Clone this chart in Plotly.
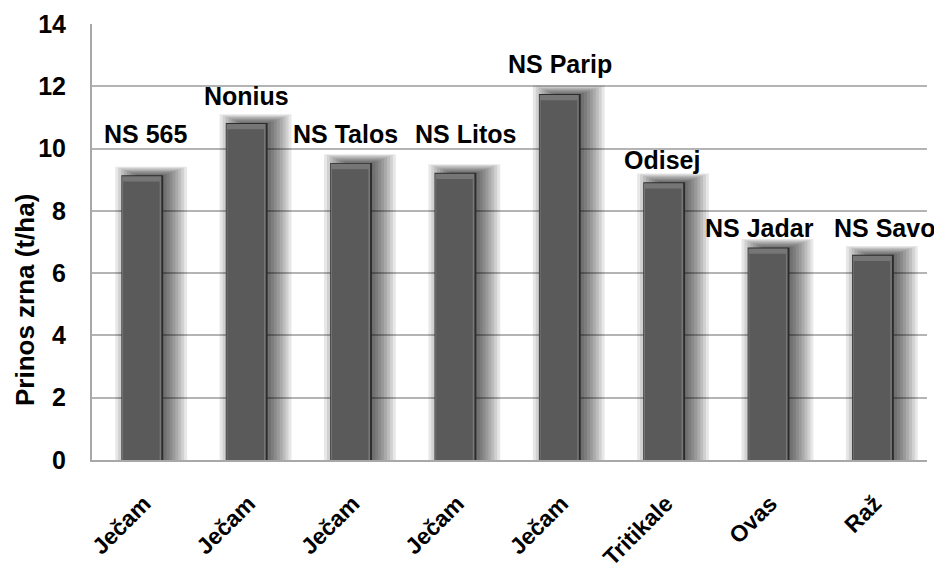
import plotly.graph_objects as go

# ---- data ----
crops = ["Ječam", "Ječam", "Ječam", "Ječam", "Ječam", "Tritikale", "Ovas", "Raž"]
varieties = ["NS 565", "Nonius", "NS Talos", "NS Litos", "NS Parip", "Odisej", "NS Jadar", "NS Savo"]
yields = [9.14, 10.82, 9.54, 9.22, 11.75, 8.92, 6.82, 6.59]
y_ticks = [0, 2, 4, 6, 8, 10, 12, 14]

# ---- style ----
FONT = "Liberation Sans"
label_yshift = [25, 11, 13, 23, 14, 6, 4, 11]
label_xshift = [3, 0, -6, 10, 0, -2, -9, 12]

x = list(range(len(crops)))
BW = 0.40
OFF = -0.218

fig = go.Figure()

# soft shadow (layered translucent bars, shifted right)
n_layers = 9
for k in range(n_layers):
    half = BW / 2 - 0.08 + k * 0.028
    extra = 0.035 * k
    fig.add_trace(go.Bar(
        x=x, y=[v + extra for v in yields],
        width=2 * half, offset=OFF + BW / 2 + 0.085 - half,
        marker=dict(color="rgba(0,0,0,0.095)", line=dict(width=0)),
        hoverinfo="skip", showlegend=False,
    ))

# bar body: dark edge, light bevel, middle face
fig.add_trace(go.Bar(
    x=x, y=yields, width=BW, offset=OFF,
    marker=dict(color="#2c2c2c", line=dict(width=0)),
    showlegend=False,
))
fig.add_trace(go.Bar(
    x=x, y=[v - 0.03 for v in yields], width=BW - 0.024, offset=OFF + 0.006,
    marker=dict(color="#767676", line=dict(width=0)),
    hoverinfo="skip", showlegend=False,
))
fig.add_trace(go.Bar(
    x=x, y=[v - 0.2 for v in yields], width=BW - 0.05, offset=OFF + 0.016,
    marker=dict(color="#5a5a5a", line=dict(width=0)),
    hoverinfo="skip", showlegend=False,
))

for i, (name, v) in enumerate(zip(varieties, yields)):
    fig.add_annotation(
        x=i - 0.018, y=v, text=name, showarrow=False,
        yanchor="bottom", xanchor="center",
        yshift=label_yshift[i], xshift=label_xshift[i],
        font=dict(family=FONT, size=25, color="black", weight="bold"),
    )

fig.add_annotation(
    xref="paper", yref="paper", x=-0.0802, y=0.367,
    text="Prinos zrna (t/ha)", textangle=-90, showarrow=False,
    xanchor="center", yanchor="middle",
    font=dict(family=FONT, size=26, color="black", weight="bold"),
)

fig.update_layout(
    width=934, height=566,
    margin=dict(l=84, r=15, t=16, b=114),
    barmode="overlay",
    plot_bgcolor="white", paper_bgcolor="white",
    font=dict(family=FONT, color="black"),
)
fig.update_xaxes(
    range=[-0.5, len(crops) - 0.5], automargin=False,
    tickmode="array", tickvals=x, ticktext=crops,
    tickangle=-45, tickfont=dict(family=FONT, size=23, color="black", weight="bold"),
    showline=True, linecolor="#a8a8a8", linewidth=2,
    showgrid=False, zeroline=False, ticks="",
    ticklabelstandoff=19,
)
fig.update_yaxes(
    range=[0, 14], automargin=False, tickmode="array", tickvals=y_ticks,
    tickfont=dict(family=FONT, size=25, color="black", weight="bold"),
    showline=True, linecolor="#a8a8a8", linewidth=2,
    showgrid=True, gridcolor="#b4b4b4", gridwidth=2,
    zeroline=False, ticks="", ticklabelstandoff=19,
)

fig.write_html("out.html")
